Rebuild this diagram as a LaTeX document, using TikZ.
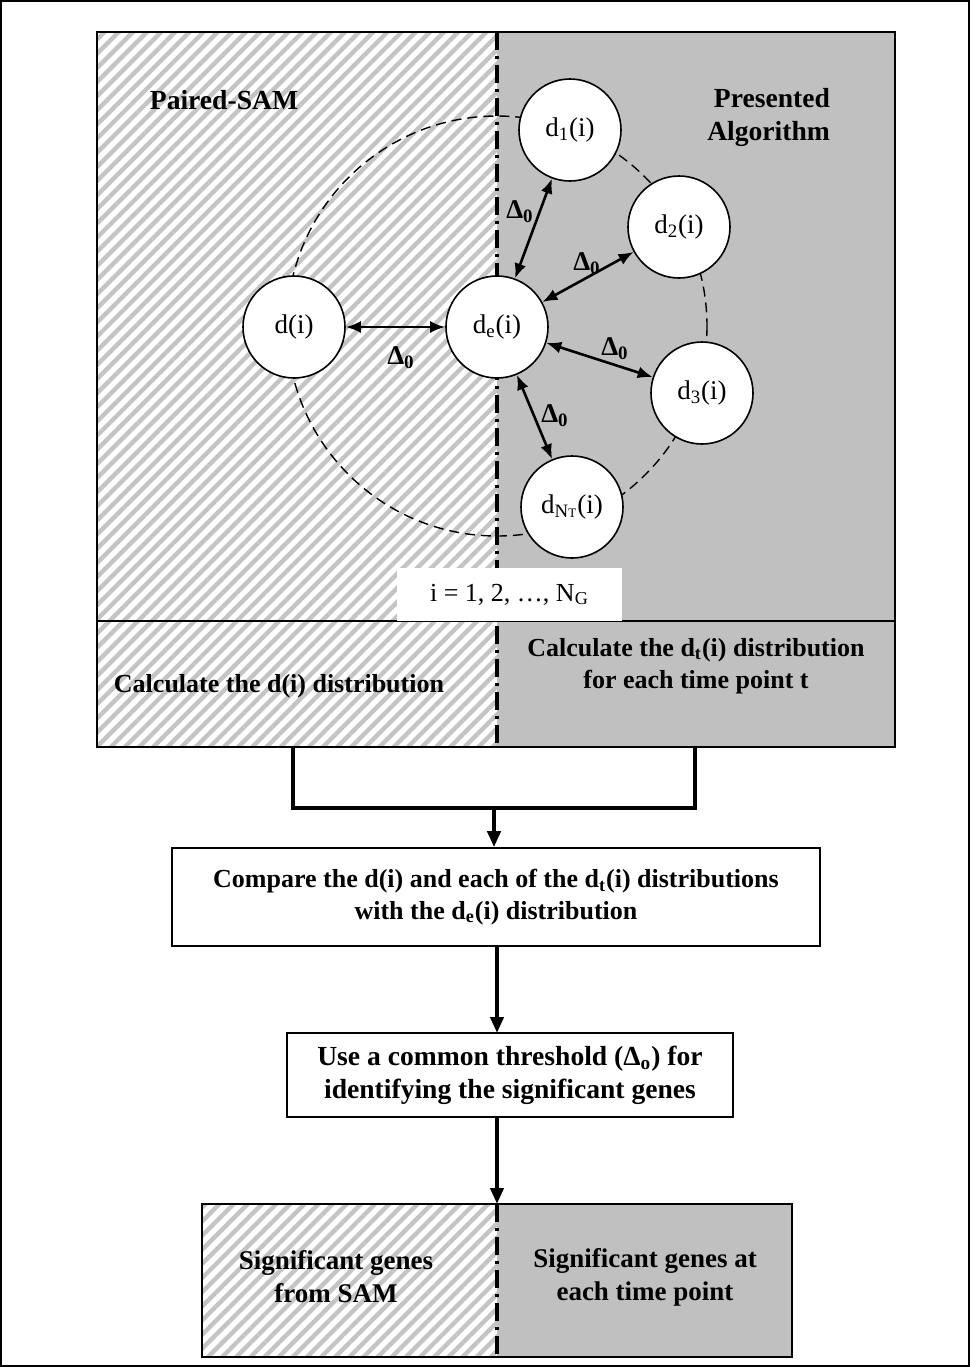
\documentclass[tikz,border=0pt]{standalone}
\usepackage{fontspec}
\setmainfont{Liberation Serif}
\usetikzlibrary{arrows.meta,patterns.meta}
\definecolor{algogray}{RGB}{192,192,192}
\definecolor{hatchgray}{RGB}{196,196,196}
\tikzset{
  hatched/.style={pattern={Lines[angle=45,distance=5pt,line width=2.2pt]}, pattern color=hatchgray},
  grayside/.style={fill=algogray},
  divider/.style={line width=1.7pt, dash pattern=on 9pt off 3pt on 1.5pt off 3pt},
  dnode/.style={circle, draw, fill=white, line width=0.8pt, minimum size=51pt, inner sep=0pt, font=\fontsize{13.5}{15}\selectfont},
  delta/.style={{Latex[length=7.5pt,width=6pt]}-{Latex[length=7.5pt,width=6pt]}, line width=1.3pt},
  dlabel/.style={font=\fontsize{13.5}{15}\selectfont\bfseries},
  heading/.style={font=\fontsize{13.8}{16.5}\selectfont\bfseries},
  stepbox/.style={draw, fill=white, line width=0.8pt, align=center, inner sep=0pt, font=\fontsize{13}{16}\selectfont\bfseries},
  flow/.style={line width=2pt, -{Triangle[length=8pt,width=6.5pt]}},
}
\newcommand{\dzero}{Δ\textsubscript{0}}
\begin{document}
\begin{tikzpicture}[x=0.5pt,y=-0.5pt]
  \useasboundingbox (0,0) rectangle (970,1367);
  \draw[line width=0.6pt] (1,1) rectangle (969,1366);

  % top panel: two halves
  \fill[white] (97,32) rectangle (497,747);
  \fill[hatched] (97,32) rectangle (497,747);
  \fill[grayside] (497,32) rectangle (895,747);
  \draw[divider] (497,32) -- (497,747);
  \draw[line width=0.8pt] (97,621) -- (895,621);
  \draw[line width=0.8pt] (97,32) rectangle (895,747);
  \draw[line width=0.7pt, dash pattern=on 5pt off 3pt] (497,326) circle [radius=210];

  \node[heading] (paired) at (224,100) {Paired-SAM};
  \node[heading, align=right, anchor=east] (presented) at (837,117) {Presented\\Algorithm};

  % distances
  \node[dnode] (di) at (294,327) {d(i)};
  \node[dnode] (de) at (497,327) {d\textsubscript{e}(i)};
  \node[dnode] (d1) at (570,130) {d\textsubscript{1}(i)};
  \node[dnode] (d2) at (679,227) {d\textsubscript{2}(i)};
  \node[dnode] (d3) at (702,393) {d\textsubscript{3}(i)};
  \node[dnode] (dnt) at (572,507) {d\textsubscript{N{\fontsize{6.5}{7}\selectfont T}}(i)};

  \draw[delta] (di) -- (de);
  \draw[delta] (de) -- (d1);
  \draw[delta] (de) -- (d2);
  \draw[delta] (de) -- (d3);
  \draw[delta] (de) -- (dnt);
  \node[dlabel] (l0) at (401,358) {\dzero};
  \node[dlabel] (l1) at (520,212) {\dzero};
  \node[dlabel] (l2) at (587,264) {\dzero};
  \node[dlabel] (l3) at (615,349) {\dzero};
  \node[dlabel] (l4) at (555,416) {\dzero};

  \node[fill=white, minimum width=112.5pt, minimum height=26.5pt, inner sep=0pt,
        font=\fontsize{13}{15}\selectfont] (range) at (509.5,594.5) {i = 1, 2, …, N\textsubscript{G}};

  % distribution row
  \node[stepbox, draw=none, fill=none] (calcL) at (279,686) {Calculate the d(i) distribution};
  \node[stepbox, draw=none, fill=none] (calcR) at (696,666) {Calculate the d\textsubscript{t}(i) distribution\\for each time point t};

  \coordinate (outL) at (293,747);
  \coordinate (outR) at (695,747);
  \coordinate (join) at (494,808);
  \draw[line width=2pt] (outL) |- (join) -| (outR);

  \node[stepbox, minimum width=324pt, minimum height=49pt] (compare) at (496,897)
    {Compare the d(i) and each of the d\textsubscript{t}(i) distributions\\with the d\textsubscript{e}(i) distribution};
  \node[stepbox, minimum width=223pt, minimum height=42pt, font=\fontsize{13.8}{16.5}\selectfont\bfseries] (threshold) at (510,1075)
    {Use a common threshold (Δ\textsubscript{o}) for\\identifying the significant genes};

  \coordinate (thrIn) at (497,1033);
  \coordinate (thrOut) at (497,1117);
  \coordinate (resIn) at (497,1204);
  \draw[flow] (join) -- (join |- compare.north);
  \draw[flow] (thrIn |- compare.south) -- (thrIn);

  % result panel
  \fill[white] (202,1204) rectangle (497,1357);
  \fill[hatched] (202,1204) rectangle (497,1357);
  \fill[grayside] (497,1204) rectangle (792,1357);
  \draw[divider] (497,1204) -- (497,1357);
  \draw[line width=0.8pt] (202,1204) rectangle (792,1357);
  \node[stepbox, draw=none, fill=none, font=\fontsize{13.5}{16.5}\selectfont\bfseries] (sigL) at (336,1277) {Significant genes\\from SAM};
  \node[stepbox, draw=none, fill=none, font=\fontsize{13.5}{16.5}\selectfont\bfseries] (sigR) at (645,1277) {Significant genes at\\each time point};

  \draw[flow] (thrOut) -- (resIn);
\end{tikzpicture}
\end{document}
